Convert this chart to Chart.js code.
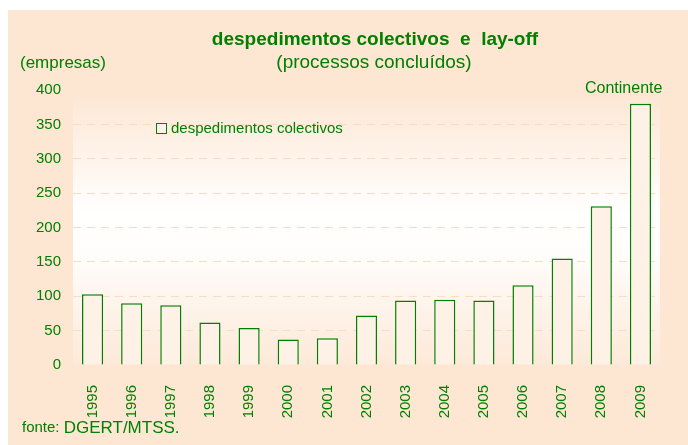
<!DOCTYPE html>
<html>
<head>
<meta charset="utf-8">
<script src="https://cdn.jsdelivr.net/npm/chart.js@4.4.1/dist/chart.umd.min.js"></script>
<style>
  html, body { margin: 0; padding: 0; background: #fff; }
  #wrap { width: 688px; height: 445px; }
</style>
</head>
<body>
<div id="wrap"><canvas id="grafico"></canvas></div>
<script>
const anos = ['1995','1996','1997','1998','1999','2000','2001','2002','2003','2004','2005','2006','2007','2008','2009']
const despedimentos = [103, 90, 87, 62, 54, 37, 39, 72, 94, 95, 94, 116, 155, 231, 380]
const yTicks = [0, 50, 100, 150, 200, 250, 300, 350, 400]

const verde = '#008000'
const pessego = '#fde6d2'
const fonte = 'Liberation Sans, Arial, sans-serif'

Chart.defaults.font.family = fonte
Chart.defaults.color = verde

// fundo, legenda e textos soltos
const fundo = {
  id: 'fundo',
  beforeDraw(chart) {
    const c = chart.ctx, a = chart.chartArea
    c.save()
    c.fillStyle = '#fff'
    c.fillRect(0, 0, chart.width, chart.height)
    c.fillStyle = pessego
    c.fillRect(8, 10, chart.width - 8, chart.height - 10)
    const g = c.createLinearGradient(0, a.top, 0, a.bottom)
    g.addColorStop(0, pessego)
    g.addColorStop(0.45, '#ffffff')
    g.addColorStop(0.6, '#fffdfb')
    g.addColorStop(1, '#fde9d8')
    c.fillStyle = g
    c.fillRect(a.left, a.top, a.right - a.left, a.bottom - a.top)
    c.restore()
  },
  afterDraw(chart) {
    const c = chart.ctx
    c.save()
    c.fillStyle = verde
    c.textBaseline = 'middle'
    c.textAlign = 'center'
    c.font = 'bold 19px ' + fonte
    c.fillText('despedimentos colectivos  e  lay-off', 375, 40)
    c.font = '19px ' + fonte
    c.fillText('(processos concluídos)', 374, 63)
    c.textAlign = 'left'
    c.font = '17px ' + fonte
    c.fillText('(empresas)', 20, 63)
    c.font = '16px ' + fonte
    c.fillText('Continente', 585, 89)
    c.font = '15px ' + fonte
    c.fillText('fonte: ', 22, 428)
    const w = c.measureText('fonte: ').width
    c.font = '17px ' + fonte
    c.fillText('DGERT/MTSS.', 22 + w, 428)
    // legenda
    c.strokeStyle = verde
    c.lineWidth = 1
    c.fillStyle = '#fef3ea'
    c.fillRect(156.5, 123.5, 10, 10)
    c.strokeRect(156.5, 123.5, 10, 10)
    c.fillStyle = verde
    c.font = '15px ' + fonte
    c.fillText(chart.data.datasets[0].label, 171, 129)
    c.restore()
  }
}

const data = {
  labels: anos,
  datasets: [{
    label: 'despedimentos colectivos',
    data: despedimentos,
    backgroundColor: '#fef1e6',
    borderColor: verde,
    borderWidth: 1.5,
    barPercentage: 0.54,
    categoryPercentage: 1
  }]
}

const config = {
  type: 'bar',
  data,
  options: {
    responsive: true,
    maintainAspectRatio: false,
    animation: false,
    layout: { padding: { top: 90, right: 28, left: 0, bottom: 0 } },
    plugins: {
      legend: { display: false },
      tooltip: { enabled: false }
    },
    scales: {
      x: {
        grid: { display: false },
        border: { display: false },
        ticks: { minRotation: 90, maxRotation: 90, padding: 12, font: { size: 15 }, color: verde },
        afterFit(s) { s.height = 80 }
      },
      y: {
        min: 0,
        max: 400,
        afterBuildTicks(s) { s.ticks = yTicks.map(v => ({ value: v })) },
        grid: {
          color: ctx => (ctx.tick && (ctx.tick.value === 0 || ctx.tick.value === 400)) ? 'rgba(0,0,0,0)' : '#f8dcc4',
          drawTicks: false
        },
        border: { display: false, dash: [8, 6] },
        ticks: { padding: 12, font: { size: 15 }, color: verde },
        afterFit(s) { s.width = 73 }
      }
    }
  },
  plugins: [fundo]
}

const graph = new Chart(document.getElementById('grafico'), config)
</script>
</body>
</html>
